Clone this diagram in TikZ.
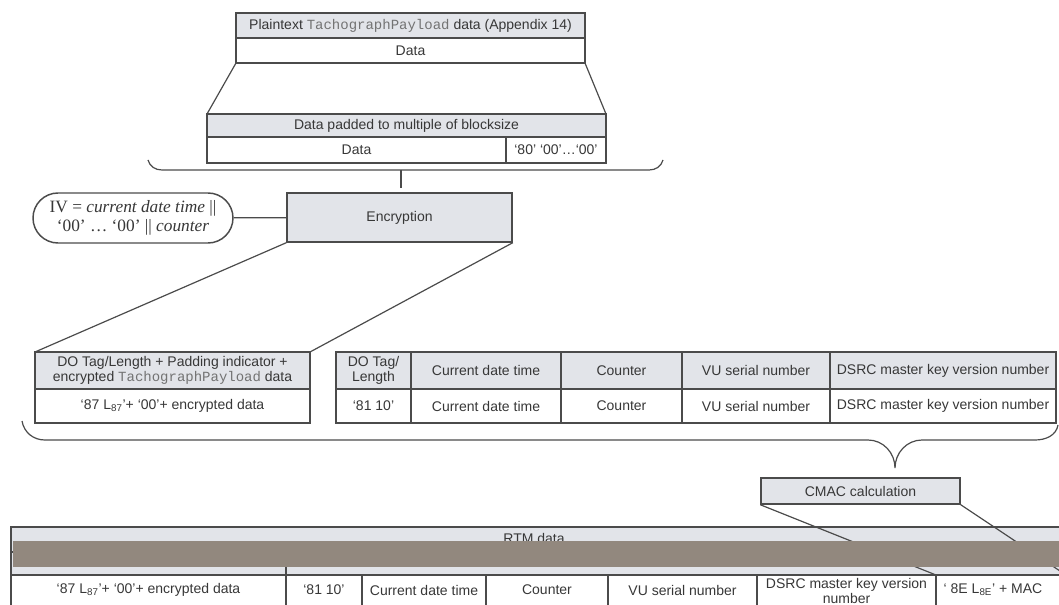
\documentclass[tikz,border=0pt]{standalone}
\usepackage{fontspec}
\setmainfont{Liberation Sans}
\newfontfamily\ivfont{Liberation Serif}
\newfontfamily\codefont{Liberation Mono}
\usetikzlibrary{positioning,shapes.misc}

\definecolor{linegray}{RGB}{75,75,75}
\definecolor{textgray}{RGB}{55,55,55}
\definecolor{codegray}{RGB}{115,115,115}
\definecolor{headfill}{RGB}{226,228,233}
\definecolor{noisefill}{RGB}{146,136,126}

\newcommand{\tachocode}[1]{{\codefont\color{codegray}#1}}

\tikzset{
  box/.style={draw=linegray, line width=1.1pt},
  head/.style={box, fill=headfill},
  lbl/.style={font=\fontsize{10.5}{11.5}\selectfont, text=textgray, inner sep=0pt, align=center},
  link/.style={draw=linegray, line width=0.9pt},
}

\begin{document}
\begin{tikzpicture}[x=0.75pt, y=-0.75pt]
    \useasboundingbox (0,0) rectangle (1059,605);

    % Plaintext payload
    \draw[head] (236,13) rectangle (585,38);
    \draw[box, fill=white] (236,38) rectangle (585,63);
    \coordinate (plain-sw) at (236,63);
    \coordinate (plain-se) at (585,63);
    \node[lbl] (plainHead) at (410.5,25.5) {Plaintext \tachocode{TachographPayload} data (Appendix 14)};
    \node[lbl] (plainData) at (410.5,50.5) {Data};

    % Padded data
    \draw[head] (207,114) rectangle (606,137);
    \draw[box] (207,137) rectangle (506,163);
    \draw[box] (506,137) rectangle (606,163);
    \coordinate (pad-nw) at (207,114);
    \coordinate (pad-ne) at (606,114);
    \node[lbl] (padHead) at (406.5,125.5) {Data padded to multiple of blocksize};
    \node[lbl] (padData) at (356.5,150) {Data};
    \node[lbl] (padBytes) at (556,150) {‘80’ ‘00’…‘00’};
    \draw[link] (plain-sw) -- (pad-nw);
    \draw[link] (plain-se) -- (pad-ne);

    % Brace under padded data
    \draw[link] (148,160) to[out=-75,in=180] (162,170) -- (649,170) to[out=0,in=-105] (663,160);
    \draw[link] (401,170) -- (401,188);

    % Encryption and IV
    \node[head, lbl, minimum width=225*0.75pt, minimum height=49*0.75pt] (enc) at (399.5,217.5) {Encryption};
    \node[draw=linegray, line width=1.1pt, rounded rectangle, minimum width=200*0.75pt, minimum height=50*0.75pt,
          inner sep=0pt, align=center, text=textgray, font=\ivfont\fontsize{13}{14.5}\selectfont] (iv) at (133,218)
          {IV = \textit{current date time} ||\\‘00’ … ‘00’ || \textit{counter}};
    \draw[link] (iv) -- (enc);

    % Encrypted data
    \draw[head] (35,352) rectangle (310,389);
    \draw[box] (35,389) rectangle (310,423);
    \coordinate (encData-nw) at (35,352);
    \coordinate (encData-ne) at (310,352);
    \node[lbl] (encDataHead) at (172.5,370.5) {DO Tag/Length + Padding indicator +\\encrypted \tachocode{TachographPayload} data};
    \node[lbl] (encDataVal) at (172.5,406) {‘87 L\textsubscript{87}’+ ‘00’+ encrypted data};
    \draw[link] (enc.south west) -- (encData-nw);
    \draw[link] (enc.south east) -- (encData-ne);

    % Header data
    \draw[head] (336,352) rectangle (1056,389);
    \draw[box] (336,389) rectangle (1056,423);
    \foreach \x in {411,561,682,830}
        \draw[box] (\x,352) -- (\x,423);
    \node[lbl] (tagHead) at (373.5,370.5) {DO Tag/\\Length};
    \node[lbl] (timeHead) at (486,370.5) {Current date time};
    \node[lbl] (ctrHead) at (621.5,370.5) {Counter};
    \node[lbl] (vuHead) at (756,370.5) {VU serial number};
    \node[lbl] (keyHead) at (943,370.5) {DSRC master key version number};
    \node[lbl] (tagVal) at (373.5,406) {‘81 10’};
    \node[lbl] (timeVal) at (486,406) {Current date time};
    \node[lbl] (ctrVal) at (621.5,406) {Counter};
    \node[lbl] (vuVal) at (756,406) {VU serial number};
    \node[lbl] (keyVal) at (943,406) {DSRC master key version number};

    % Brace under both
    \draw[link] (22,421) to[out=-80,in=180] (45,440) -- (868,440) to[out=0,in=90] (895,468)
        to[out=90,in=180] (922,440) -- (1035,440) to[out=0,in=-100] (1058,425);

    % CMAC
    \node[head, lbl, minimum width=199*0.75pt, minimum height=26*0.75pt] (cmac) at (860.5,491) {CMAC calculation};

    % RTM data
    \draw[head] (11,527) rectangle (1066,575);
    \draw[box] (11,552) -- (1066,552);
    \draw[box] (286,552) -- (286,575);
    \draw[box] (11,575) rectangle (1066,625);
    \foreach \x in {286,362,486,608,757,936}
        \draw[box] (\x,575) -- (\x,625);
    \coordinate (mac-nw) at (936,575);
    \coordinate (mac-ne) at (1066,575);
    \draw[link] (cmac.south west) -- (mac-nw);
    \draw[link] (cmac.south east) -- (mac-ne);
    \node[lbl] (rtmHead) at (534,538) {RTM data};
    \fill[noisefill] (13,541) rectangle (1066,567); % obscured band
    \node[lbl] (rtmEnc) at (148.5,590) {‘87 L\textsubscript{87}’+ ‘00’+ encrypted data};
    \node[lbl] (rtmTag) at (324,590) {‘81 10’};
    \node[lbl] (rtmTime) at (424,590) {Current date time};
    \node[lbl] (rtmCtr) at (547,590) {Counter};
    \node[lbl] (rtmVu) at (682.5,590) {VU serial number};
    \node[lbl, anchor=north] (rtmKey) at (846.5,578) {DSRC master key version\\number};
    \node[lbl] (rtmMac) at (993,590) {‘ 8E L\textsubscript{8E}’ + MAC};
\end{tikzpicture}
\end{document}
